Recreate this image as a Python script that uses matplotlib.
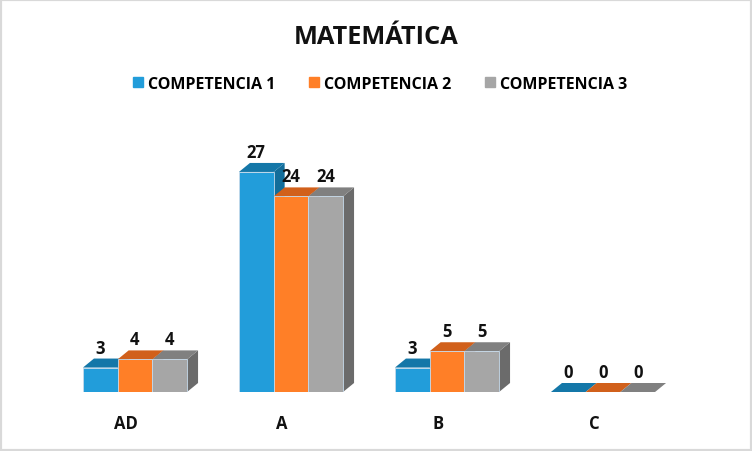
import matplotlib.pyplot as plt
from matplotlib.patches import Polygon, Rectangle
from matplotlib.lines import Line2D

categories = ['AD', 'A', 'B', 'C']
series_names = ['COMPETENCIA 1', 'COMPETENCIA 2', 'COMPETENCIA 3']
comp1 = [3, 27, 3, 0]
comp2 = [4, 24, 5, 0]
comp3 = [4, 24, 5, 0]
values = [comp1, comp2, comp3]

front_colors = ['#229DDA', '#FF7F27', '#A6A6A6']
top_colors = ['#1477A8', '#D1601B', '#808080']
side_colors = ['#126D9A', '#BD561A', '#6B6B6B']

plt.rcParams['font.family'] = ['Open Sans', 'DejaVu Sans']

W, H = 752, 452
fig = plt.figure(figsize=(W / 100, H / 100), dpi=100)
fig.patch.set_facecolor('white')

# axes in pixel layout
ax_l, ax_b, ax_w, ax_h = 40, 59, 672, 252
ax = fig.add_axes([ax_l / W, ax_b / H, ax_w / W, ax_h / H])
px_per_x = 156.0
px_per_y = 8.15
x_left = -(135 - ax_l) / px_per_x
ax.set_xlim(x_left, x_left + ax_w / px_per_x)
ax.set_ylim(0, ax_h / px_per_y)
ax.axis('off')

bw = 34.7 / px_per_x
dx = 11 / px_per_x
dy = 9 / px_per_y

for gi, cat in enumerate(categories):
    for si in range(3):
        v = values[si][gi]
        x0 = gi + (si - 1.5) * bw
        # side face
        ax.add_patch(Polygon([(x0 + bw, 0), (x0 + bw + dx, dy), (x0 + bw + dx, v + dy), (x0 + bw, v)],
                             closed=True, facecolor=side_colors[si], edgecolor='none'))
        # top face
        ax.add_patch(Polygon([(x0, v), (x0 + bw, v), (x0 + bw + dx, v + dy), (x0 + dx, v + dy)],
                             closed=True, facecolor=top_colors[si], edgecolor='none'))
        # front face
        if v > 0:
            ax.bar(x0, v, width=bw, align='edge', color=front_colors[si],
                   edgecolor='#C5D9EA', linewidth=0.6)
        ax.text(x0 + bw / 2, v + dy + 11 / px_per_y, str(v), ha='center', va='center',
                fontsize=12, fontweight='bold', color='#111111', clip_on=False)
    ax.text(gi - 9 / px_per_x, -31 / px_per_y, cat, ha='center', va='center',
            fontsize=12, fontweight='bold', color='#111111', clip_on=False)

fig.text(0.5, 1 - 37 / H, 'MATEMÁTICA', ha='center', va='center',
         fontsize=18.3, fontweight='bold', color='#111111')

handles = [Line2D([0], [0], marker='s', linestyle='none', markersize=7,
                  markerfacecolor=c, markeredgecolor=c) for c in front_colors]
fig.legend(handles, series_names, loc='center', bbox_to_anchor=(0.5047, 1 - 85 / H),
           ncol=3, frameon=False, handlelength=0.75, handletextpad=0.25,
           columnspacing=2.05, prop={'size': 11.5, 'weight': 'bold'})

fig.add_artist(Rectangle((0, 0), 1, 1, transform=fig.transFigure, fill=False,
                         edgecolor='#D9D9D9', linewidth=3))

fig.savefig('out.png', dpi=100)
